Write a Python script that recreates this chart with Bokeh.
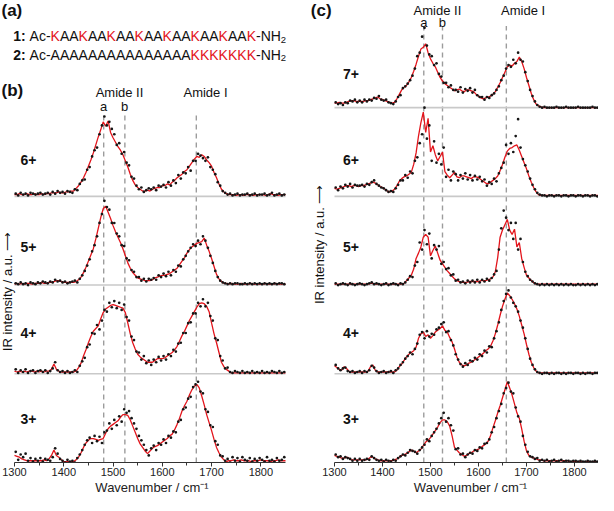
import numpy as np
from bokeh.plotting import figure
from bokeh.layouts import row, column
from bokeh.models import Label, Range1d, FixedTicker
from bokeh.embed import file_html
from bokeh.resources import INLINE

# ---------------- data (intensity, 100 = one trace spacing) ----------------
WN_START, WN_END, WN_STEP = 1300, 1850, 5
line_x = np.arange(WN_START, WN_END + 1, WN_STEP)            # 1300 ... 1850
dot_x = np.arange(WN_START + 2.5, WN_END, WN_STEP)           # 1302.5 ... 1847.5

tick_values = [1300, 1400, 1500, 1600, 1700, 1800]
minor_values = [1350, 1450, 1550, 1650, 1750]
x_title = "Wavenumber / cm\u207b\u00b9"
y_title = "IR intensity / a.u. \u27f6"

# panel (b): peptide 1
b_labels = ["6+", "5+", "4+", "3+"]
b_offsets = [3, 2, 1, 0]
b_dash = [1481, 1524, 1669]

b6_line = [2,2,3,2,2,3,2,2,3,2,
           2,3,2,3,3,4,4,4,5,4,
           4,5,5,6,6,9,12,16,21,27,
           34,41,49,58,67,75,84,79,85,72,
           66,61,56,52,47,40,33,25,18,13,
           10,8,6,6,7,6,8,9,10,10,
           12,12,14,13,16,18,21,23,25,28,
           30,34,38,42,45,44,47,45,41,38,
           34,27,21,14,8,5,3,2,2,2,
           1,2,2,1,2,2,2,1,2,2,
           2,2,1,2,3,2,2,1,2,2,2]
b6_dots = [3,1,4,2,3,1,4,3,2,3,
           4,2,3,4,2,5,3,6,4,5,
           3,6,5,4,8,7,14,18,19,30,
           33,45,52,55,70,80,90,80,84,76,
           70,58,60,48,50,38,35,22,20,12,
           8,10,5,7,9,8,10,7,12,11,
           13,10,16,12,18,15,24,20,27,26,
           33,29,40,40,48,46,43,40,44,33,
           30,25,16,12,6,4,2,3,1,2,
           3,1,2,2,3,1,2,3,1,2,
           2,3,1,2,4,1,2,3,1,2]

b5_line = [1,2,1,2,1,2,2,1,2,2,
           2,3,2,2,3,3,4,5,5,4,
           3,3,3,3,3,4,6,9,14,20,
           27,34,41,52,64,76,86,89,82,75,
           67,60,54,48,41,33,25,19,14,11,
           8,7,6,5,5,5,6,8,9,10,
           11,11,12,13,15,17,19,23,27,31,
           36,40,43,45,47,48,49,53,45,38,
           30,21,12,7,4,2,2,1,2,1,
           1,1,2,1,1,1,2,1,1,1,
           1,1,2,1,1,1,2,1,1,1,1]
b5_dots = [2,1,3,1,2,0,3,2,1,3,
           2,4,3,2,4,3,6,4,5,3,
           4,2,3,4,5,3,7,11,16,22,
           29,38,45,55,70,80,95,88,85,70,
           70,58,55,45,44,30,28,17,15,9,
           9,5,7,4,7,6,8,6,11,9,
           13,10,15,11,17,15,22,21,29,33,
           38,42,46,44,50,46,55,50,42,33,
           25,16,9,5,3,2,1,2,1,2,
           2,1,1,2,1,2,1,2,1,2,
           1,2,1,2,1,2,1,2,2,1]

b4_line = [3,2,3,2,3,2,3,3,2,3,
           2,3,2,3,3,5,11,5,3,2,
           2,2,2,2,2,3,7,12,20,27,
           35,42,48,51,54,62,69,73,75,77,
           78,77,76,75,74,69,57,45,35,28,
           22,19,17,15,13,13,13,15,17,17,
           17,18,20,22,24,27,31,37,43,48,
           54,60,65,70,75,79,80,79,76,70,
           57,45,35,24,13,8,5,3,1,1,
           1,1,1,1,1,1,1,1,1,1,
           1,1,1,1,1,1,1,1,1,1,1]
b4_dots = [5,1,4,2,5,1,3,4,1,3,
           4,2,4,1,3,6,13,4,2,3,
           1,3,1,2,4,2,9,14,18,30,
           33,46,45,55,50,60,72,70,80,75,
           82,74,80,72,78,64,60,42,38,25,
           24,16,20,12,15,10,16,13,19,15,
           20,16,22,20,27,25,34,35,46,46,
           57,58,68,68,80,76,84,76,80,65,
           60,40,38,20,15,6,7,2,1,3,
           2,1,3,1,2,1,3,1,2,1,
           3,1,2,1,3,2,1,3,1,2]

b3_line = [8,7,6,4,3,2,2,2,2,2,
           2,2,3,2,4,8,14,8,6,3,
           1,1,1,1,1,3,6,11,17,22,
           25,27,27,26,25,26,27,33,38,41,
           43,45,47,51,54,54,53,48,41,34,
           27,21,17,13,10,13,16,18,19,21,
           23,25,27,30,32,37,43,50,58,64,
           69,76,82,86,88,84,75,65,54,45,
           36,26,17,11,6,3,1,2,2,3,
           2,2,3,2,2,2,1,2,2,2,
           3,2,2,2,1,2,2,3,2,2,2]
b3_dots = [12,3,9,6,10,2,5,1,4,2,
           5,1,4,3,2,6,16,10,4,2,
           0,3,1,2,0,5,9,14,20,25,
           28,22,30,24,29,22,34,36,44,38,
           48,42,52,46,60,56,58,50,44,38,
           30,25,20,14,8,16,19,14,22,20,
           26,22,30,28,35,34,46,48,60,62,
           72,74,85,88,91,80,78,60,57,42,
           40,24,20,8,7,2,4,0,6,2,
           5,1,6,3,2,5,1,4,2,5,
           3,1,6,2,3,1,5,2,3,6]

# panel (c): peptide 2
c_labels = ["7+", "6+", "5+", "4+", "3+"]
c_offsets = [4, 3, 2, 1, 0]
c_dash = [1486, 1525, 1658]

c7_line = [5,5,6,5,5,6,7,8,8,7,
           7,7,7,8,8,9,10,11,12,10,
           9,8,7,6,5,6,10,15,20,23,
           25,29,34,41,49,58,66,68,72,62,
           55,50,46,40,34,30,27,25,23,21,
           19,20,21,19,18,20,20,19,18,15,
           13,11,10,11,12,13,15,18,23,28,
           34,40,46,48,47,50,52,57,52,44,
           34,25,16,9,4,2,1,0,0,0,
           0,0,0,0,0,0,0,0,0,0,
           0,0,0,0,0,0,0,0,0,0,0]
c7_dots = [6,4,5,3,6,5,8,7,9,6,
           8,6,9,7,9,8,11,10,13,9,
           8,9,6,5,4,7,12,14,22,24,
           27,31,36,44,58,62,80,90,70,60,
           58,48,50,38,35,28,28,23,25,20,
           20,18,23,17,21,19,22,17,20,14,
           12,12,9,12,11,14,16,20,24,31,
           36,44,48,46,54,50,62,54,52,40,
           30,20,13,7,3,1,0,1,0,0,
           0,0,1,0,0,0,1,0,0,0,
           0,1,0,0,0,0,0,1,0,0]

c6_line = [9,8,9,10,11,12,12,11,12,12,
           11,12,12,13,14,15,16,15,13,11,
           10,8,6,5,6,8,12,17,20,22,
           23,25,27,36,49,68,83,95,72,88,
           50,57,47,40,45,50,28,24,21,24,
           27,22,21,23,23,22,21,20,22,22,
           21,19,17,15,14,16,18,20,23,29,
           36,44,51,54,55,57,58,52,45,38,
           31,23,16,10,5,2,1,1,1,1,
           1,1,1,1,1,1,1,1,1,1,
           1,1,1,1,1,1,1,1,1,1,1]
c6_dots = [10,7,11,9,13,11,14,10,13,12,
           12,13,11,14,13,16,18,14,12,10,
           9,7,5,6,5,9,13,18,18,24,
           21,28,26,40,44,60,70,100,65,80,
           40,62,38,48,36,55,22,30,18,28,
           25,18,24,20,26,19,24,18,23,19,
           22,17,19,12,16,14,20,17,26,32,
           38,58,48,60,50,68,87,55,42,35,
           28,20,13,8,4,2,1,1,0,1,
           1,0,1,1,0,1,1,0,1,1,
           0,1,1,0,1,1,0,1,1,0]

c5_line = [1,1,1,1,1,1,1,1,1,1,
           1,1,1,1,1,2,2,1,1,1,
           1,1,1,1,1,1,1,1,1,2,
           5,8,11,18,30,36,43,54,57,54,
           33,39,44,36,28,24,20,16,13,10,
           7,5,4,3,3,3,4,4,4,4,
           4,5,5,5,6,7,9,15,31,54,
           62,68,74,62,57,63,43,48,30,20,
           11,8,5,3,1,1,1,1,1,1,
           1,1,1,1,1,1,1,1,1,1,
           1,1,1,1,1,1,1,1,1,1,1]
c5_dots = [2,0,1,2,1,0,2,1,0,1,
           2,1,0,1,2,3,1,2,1,0,
           1,2,0,1,2,1,0,2,1,3,
           6,10,9,22,26,48,40,62,46,58,
           30,45,40,44,24,26,18,19,11,12,
           5,6,3,4,2,5,3,5,3,6,
           3,6,4,7,5,8,12,16,40,64,
           84,76,62,70,52,70,40,52,26,15,
           10,6,4,2,1,0,1,0,1,0,
           1,0,1,0,1,0,1,0,1,0,
           0,1,0,1,0,1,0,1,0,1]

c4_line = [9,7,5,4,8,6,3,2,2,2,
           2,2,2,2,3,8,10,4,2,2,
           2,2,2,2,2,2,4,8,11,15,
           19,22,24,26,30,40,45,47,42,44,
           40,43,47,49,51,54,49,47,41,36,
           28,19,13,10,9,10,12,13,15,17,
           19,21,23,26,28,31,37,45,55,66,
           76,84,91,88,84,79,73,65,55,45,
           33,22,13,7,3,1,1,1,1,1,
           1,1,1,1,1,1,1,1,1,1,
           1,1,1,1,1,1,1,1,1,1,1]
c4_dots = [10,6,4,6,7,3,2,3,1,2,
           3,1,3,2,4,9,7,3,1,2,
           3,1,2,3,1,4,6,10,13,17,
           20,24,22,28,34,44,47,40,48,42,
           45,44,50,52,56,58,47,48,38,32,
           22,16,11,8,12,10,15,14,18,16,
           22,20,26,24,31,30,40,48,58,72,
           82,90,94,86,80,76,70,60,52,40,
           28,17,10,5,2,1,0,1,1,0,
           1,0,1,1,0,1,0,1,1,0,
           1,1,0,1,0,1,1,0,1,1]

c3_line = [8,7,6,5,5,6,5,3,3,3,
           3,3,3,3,4,6,6,4,3,2,
           2,2,2,2,2,3,4,6,8,9,
           10,12,14,13,11,13,15,19,23,25,
           28,32,36,40,45,48,48,46,41,30,
           17,14,11,9,7,8,10,11,13,14,
           15,17,19,21,24,30,39,47,56,64,
           73,82,91,84,76,66,56,50,38,24,
           13,8,6,5,4,3,3,2,2,2,
           2,2,2,2,2,2,2,2,1,1,
           1,1,1,1,1,1,1,1,1,1,1]
c3_dots = [9,6,7,4,6,5,4,2,4,2,
           4,2,3,4,3,7,5,3,2,3,
           1,3,2,1,3,2,5,7,9,8,
           11,14,13,12,10,14,17,20,26,24,
           30,34,38,44,50,56,46,50,42,36,
           15,16,9,10,6,9,11,10,14,13,
           17,16,21,22,26,34,40,50,58,66,
           78,84,90,80,78,62,52,46,30,20,
           12,7,6,4,5,2,3,2,3,1,
           2,3,1,2,3,1,2,2,1,2,
           2,1,2,1,1,2,1,1,2,1]

b_lines = [b6_line, b5_line, b4_line, b3_line]
b_dots = [b6_dots, b5_dots, b4_dots, b3_dots]
c_lines = [c7_line, c6_line, c5_line, c4_line, c3_line]
c_dots = [c7_dots, c6_dots, c5_dots, c4_dots, c3_dots]
for arr in b_lines + c_lines:
    assert len(arr) == len(line_x)
for arr in b_dots + c_dots:
    assert len(arr) == len(dot_x)

# ---------------- style ----------------
FONT = "Liberation Sans"
RED = "#e3141b"
DOT = "#151515"
BASE_GRAY = "#c9c9c9"
DASH_GRAY = "#9c9c9c"
SCALE = 100.0
Y_TOP = 470 / 90.25
H_MAIN = 478
H_STRIP = 17
TOTAL_W = 598

# figure geometry: frames cover whole canvas, data span 1300-1850
B_W, B_LEFT, B_RIGHT = 305, 14, 285      # pixel positions of 1300 / 1850
C_W, C_LEFT, C_RIGHT = 293, 29, 293
B_XS = (B_RIGHT - B_LEFT) / (WN_END - WN_START)
C_XS = (C_RIGHT - C_LEFT) / (WN_END - WN_START)
B_RANGE = (WN_START - B_LEFT / B_XS, WN_START + (B_W - B_LEFT) / B_XS)
C_RANGE = (WN_START - C_LEFT / C_XS, WN_START + (C_W - C_LEFT) / C_XS)

# reference-pixel helpers for annotation placement
def bx(px):
    return 1300 + (px - 22) / B_XS
def cx(px):
    return 1300 + (px - 342.3) / 0.493
def yy(py):
    return (472 - py) / 90.25


def make_fig(width, xr):
    p = figure(width=width, height=H_MAIN, x_range=Range1d(*xr),
               y_range=Range1d(0, Y_TOP), output_backend="svg",
               toolbar_location=None, y_axis_location=None,
               min_border_left=0, min_border_right=0,
               min_border_top=0, min_border_bottom=0)
    p.grid.visible = False
    p.outline_line_color = None
    p.background_fill_color = "white"
    p.border_fill_color = "white"
    xa = p.xaxis[0]
    xa.bounds = (WN_START, WN_END)
    xa.ticker = FixedTicker(ticks=tick_values, minor_ticks=minor_values)
    xa.major_tick_out = 4
    xa.major_tick_in = 0
    xa.minor_tick_out = 3
    xa.minor_tick_in = 0
    xa.axis_line_color = "#333333"
    xa.major_tick_line_color = "#333333"
    xa.minor_tick_line_color = "#333333"
    xa.major_label_text_font = FONT
    xa.major_label_text_font_size = "11px"
    xa.major_label_text_color = "#222222"
    xa.major_label_standoff = 1
    return p


def label(p, x, y, text, size, bold=False, color="#111111", align="left",
          baseline="middle", angle=0.0):
    p.add_layout(Label(x=x, y=y, text=text, text_font=FONT,
                       text_font_size=f"{size}px",
                       text_font_style="bold" if bold else "normal",
                       text_color=color, text_align=align,
                       text_baseline=baseline, angle=angle))


def draw_panel(p, lines, dots, offsets, dashes, dash_top):
    p.segment(x0=dashes, x1=dashes, y0=[0] * len(dashes),
              y1=[dash_top] * len(dashes), line_color=DASH_GRAY,
              line_width=1.4, line_dash="5 4")
    base_levels = [o for o in offsets if o > 0]
    p.segment(x0=[WN_START] * len(base_levels), x1=[WN_END] * len(base_levels),
              y0=base_levels, y1=base_levels, line_color=BASE_GRAY, line_width=1.6)
    for ln, dt, off in zip(lines, dots, offsets):
        p.line(line_x, off + np.array(ln) / SCALE, line_color=RED, line_width=1.3)
        p.scatter(dot_x, off + np.array(dt) / SCALE, size=2.7, color=DOT,
                  line_color=None)


# ---------------- panel (a) + (b) ----------------
pb = make_fig(B_W, B_RANGE)
draw_panel(pb, b_lines, b_dots, b_offsets, b_dash, yy(116))

label(pb, bx(9), yy(12), "(a)", 17, bold=True)
label(pb, bx(9), yy(94), "(b)", 17, bold=True)

# sequences (widths from Arial/Liberation Sans metrics)
W_REG = {'A': 667, 'c': 500, '-': 333, 'K': 667, 'N': 722, 'H': 722, ' ': 278,
         '2': 556, '1': 556, ':': 278}
W_BOLD = {'1': 556, '2': 556, ':': 333, ' ': 278}
SEQ_SIZE = 14
SUB_SIZE = 9.5
BLACK = "#111111"
seq1 = [("1:", True, BLACK), (" ", False, BLACK), ("Ac-", False, BLACK)]
for i in range(7):
    seq1 += [("K", False, RED), ("AA", False, BLACK)]
seq1 += [("K", False, RED), ("-NH", False, BLACK)]
seq2 = [("2:", True, BLACK), (" ", False, BLACK), ("Ac-", False, BLACK),
        ("A" * 15, False, BLACK), ("K" * 7, False, RED), ("-NH", False, BLACK)]


def draw_seq(p, segs, ref_y):
    px = 20.7
    for text, bold, col in segs:
        if text.strip():
            label(p, bx(px), yy(ref_y), text, SEQ_SIZE, bold=bold, color=col,
                  baseline="alphabetic")
        tbl = W_BOLD if bold else W_REG
        px += sum(tbl[ch] for ch in text) * SEQ_SIZE / 1000.0
    label(p, bx(px), yy(ref_y + 3.5), "2", SUB_SIZE, color=BLACK,
          baseline="alphabetic")


draw_seq(pb, seq1, 38.5)
draw_seq(pb, seq2, 57.5)

label(pb, bx(127), yy(96), "Amide II", 13, align="center")
label(pb, bx(213), yy(96), "Amide I", 13, align="center")
label(pb, bx(111), yy(110), "a", 13, align="center")
label(pb, bx(132), yy(110), "b", 13, align="center")
for txt, py in zip(b_labels, [164, 253, 340, 428]):
    label(pb, bx(28), yy(py), txt, 14, bold=True)
label(pb, bx(15), yy(298), y_title, 13, align="center", angle=np.pi / 2)

# ---------------- panel (c) ----------------
pc = make_fig(C_W, C_RANGE)
draw_panel(pc, c_lines, c_dots, c_offsets, c_dash, yy(28))

label(pc, cx(318), yy(12), "(c)", 17, bold=True)
label(pc, cx(448), yy(12), "Amide II", 13, align="center")
label(pc, cx(536), yy(12), "Amide I", 13, align="center")
label(pc, cx(434), yy(24), "a", 13, align="center")
label(pc, cx(453), yy(24), "b", 13, align="center")
for txt, py in zip(c_labels, [77, 164, 253, 340, 428]):
    label(pc, cx(351), yy(py), txt, 14, bold=True)
label(pc, cx(327), yy(250), y_title, 13, align="center", angle=np.pi / 2)

# ---------------- strip with the x-axis titles ----------------
ps = figure(width=TOTAL_W, height=H_STRIP, x_range=Range1d(0, TOTAL_W),
            y_range=Range1d(0, H_STRIP), output_backend="svg",
            toolbar_location=None, x_axis_location=None, y_axis_location=None,
            min_border_left=0, min_border_right=0, min_border_top=0,
            min_border_bottom=0)
ps.grid.visible = False
ps.outline_line_color = None
ps.border_fill_color = "white"
label(ps, (B_LEFT + B_RIGHT) / 2 + 2, H_STRIP / 2 - 0.5, x_title, 13,
      align="center", color="#222222")
label(ps, B_W + (C_LEFT + C_RIGHT) / 2 + 4, H_STRIP / 2 - 0.5, x_title, 13,
      align="center", color="#222222")

layout = column(row(pb, pc), ps)
open("out.html", "w").write(file_html(layout, INLINE))
